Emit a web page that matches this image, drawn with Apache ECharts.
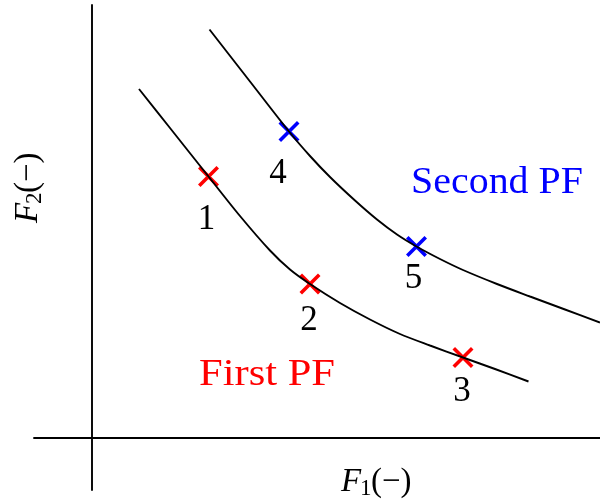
<!DOCTYPE html>
<html>
<head>
<meta charset="utf-8">
<script src="https://cdn.jsdelivr.net/npm/echarts@6/dist/echarts.min.js"></script>
<style>
  html, body { margin: 0; padding: 0; background: #fff; }
  #chart { width: 600px; height: 504px; }
</style>
</head>
<body>
<div id="chart"></div>
<script>
// Pareto fronts in the (F1, F2) objective plane
const firstFront = [
  [0.94, 6.98], [1.56, 6.20], [2.33, 5.23], [2.96, 4.44], [3.56, 3.75], [3.96, 3.37],
  [4.36, 3.08], [4.96, 2.70], [5.56, 2.37], [6.16, 2.08], [6.76, 1.85], [7.42, 1.61],
  [8.06, 1.38], [8.73, 1.13]
];
const secondFront = [
  [2.35, 8.17], [3.16, 7.13], [3.94, 6.13], [4.36, 5.64], [4.76, 5.22], [5.26, 4.75],
  [5.70, 4.37], [6.10, 4.07], [6.49, 3.83], [6.96, 3.58], [7.42, 3.36], [8.10, 3.08],
  [8.76, 2.83], [9.46, 2.57], [10.16, 2.31]
];

// Numbered solutions on each front
const firstPoints = [[2.33, 5.23], [4.36, 3.08], [7.42, 1.61]];
const firstLabels = ['1', '2', '3'];
const secondPoints = [[3.94, 6.13], [6.49, 3.83]];
const secondLabels = ['4', '5'];

// Where each number sits relative to its cross (pixels)
const firstLabelOffsets = [[-2, 43], [-1, 37], [-1, 34]];
const secondLabelOffsets = [[-11, 42], [-3, 32]];

const SERIF = '"Liberation Serif", "DejaVu Serif", serif';
const CROSS = 'path://M0,2.4L2.4,0L20,17.6L17.6,20ZM17.6,0L20,2.4L2.4,20L0,17.6Z';

function frontSeries(data) {
  return {
    type: 'line',
    data: data,
    showSymbol: false,
    smooth: 0.3,
    lineStyle: { color: '#000', width: 1.9 },
    z: 3,
    silent: true
  };
}

function markSeries(points, labels, offsets, color) {
  return {
    type: 'scatter',
    symbol: CROSS,
    symbolSize: 21,
    itemStyle: { color: color, opacity: 1 },
    data: points.map((p, i) => ({ value: p, label: { offset: offsets[i] } })),
    label: {
      show: true,
      position: 'inside',
      formatter: (p) => labels[p.dataIndex],
      color: '#000',
      opacity: 1,
      textBorderWidth: 0,
      fontFamily: SERIF,
      fontSize: 35
    },
    z: 2,
    silent: true
  };
}

function txt(x, y, text, font, color, align) {
  return {
    type: 'text',
    x: x,
    y: y,
    style: {
      text: text,
      fill: color,
      font: font,
      align: align || 'left',
      verticalAlign: 'middle'
    },
    silent: true
  };
}

// Axis title pieces: italic F, subscript index, then "(−)"
function axisTitle(index) {
  return [
    txt(0, -11, 'F', 'italic 33px ' + SERIF, '#000'),
    txt(19, -4, index, '23px ' + SERIF, '#000'),
    txt(30, -11, '(\u2212)', '33px ' + SERIF, '#000')
  ];
}

const chart = echarts.init(document.getElementById('chart'), null, { renderer: 'canvas' });

chart.setOption({
  animation: false,
  backgroundColor: '#fff',
  grid: { left: 34, right: 0, top: 5, bottom: 14 },
  xAxis: {
    type: 'value',
    min: -1.16,
    max: 10.16,
    axisLine: { onZero: true, lineStyle: { color: '#000', width: 1.9 } },
    axisTick: { show: false },
    axisLabel: { show: false },
    splitLine: { show: false }
  },
  yAxis: {
    type: 'value',
    min: -1.04,
    max: 8.66,
    axisLine: { onZero: true, lineStyle: { color: '#000', width: 1.9 } },
    axisTick: { show: false },
    axisLabel: { show: false },
    splitLine: { show: false }
  },
  series: [
    frontSeries(firstFront),
    frontSeries(secondFront),
    markSeries(firstPoints, firstLabels, firstLabelOffsets, '#ff0000'),
    markSeries(secondPoints, secondLabels, secondLabelOffsets, '#0000ff')
  ],
  graphic: [
    Object.assign(txt(497, 183, 'Second PF', '38px ' + SERIF, '#0000ff', 'center'), { scaleX: 1.05 }),
    Object.assign(txt(267, 375, 'First PF', '38px ' + SERIF, '#ff0000', 'center'), { scaleX: 1.12 }),
    { type: 'group', x: 341, y: 493, children: axisTitle('1'), silent: true },
    { type: 'group', x: 39, y: 223, rotation: Math.PI / 2, children: axisTitle('2'), silent: true }
  ]
});
</script>
</body>
</html>
